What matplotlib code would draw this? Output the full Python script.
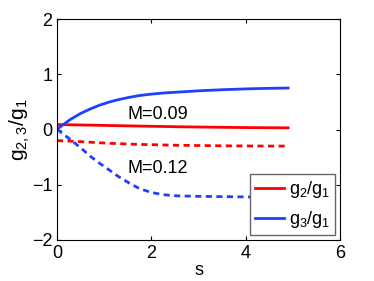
import numpy as np
import matplotlib
matplotlib.use('Agg')
import matplotlib.pyplot as plt

# values
s = [0, 0.1, 0.28, 0.5, 0.7, 0.9, 1.12, 1.3, 1.55, 1.75, 2.0, 2.25, 2.53, 3.0, 3.5, 4.0, 4.5, 4.9]
g2_a = [0.09, 0.088, 0.085, 0.082, 0.079, 0.076, 0.072, 0.069, 0.065, 0.062, 0.058, 0.055, 0.05, 0.045, 0.04, 0.035, 0.032, 0.03]
g3_a = [0.0, 0.07, 0.18, 0.29, 0.37, 0.44, 0.50, 0.54, 0.585, 0.615, 0.64, 0.66, 0.675, 0.70, 0.72, 0.735, 0.745, 0.75]
g2_b = [-0.20, -0.205, -0.21, -0.22, -0.23, -0.24, -0.25, -0.255, -0.265, -0.27, -0.275, -0.28, -0.285, -0.29, -0.295, -0.298, -0.30, -0.30]
g3_b = [0.0, -0.06, -0.18, -0.33, -0.48, -0.61, -0.74, -0.85, -0.98, -1.07, -1.14, -1.18, -1.20, -1.21, -1.215, -1.22, -1.22, -1.22]

red = '#ff0000'
blue = '#1f3fff'

plt.rcParams['font.family'] = ['Liberation Sans', 'DejaVu Sans']
plt.rcParams['mathtext.fontset'] = 'custom'
plt.rcParams['mathtext.rm'] = 'Liberation Sans'
fig = plt.figure(figsize=(3.74, 2.81), dpi=100)
ax = fig.add_axes([57/374, 41/281, 283/374, 221/281])

l1, = ax.plot(s, g2_a, color=red, lw=2)
l2, = ax.plot(s, g3_a, color=blue, lw=2)
ax.plot(s, g2_b, color=red, lw=2, ls=(0, (2.2, 1.6)))
ax.plot(s, g3_b, color=blue, lw=2, ls=(0, (2.2, 1.6)))

ax.text(1.5, 0.27, 'M=0.09', fontsize=13, va='center')
ax.text(1.5, -0.70, 'M=0.12', fontsize=13, va='center')

ax.set_xlim(0, 6)
ax.set_ylim(-2, 2)
ax.set_xticks([0, 2, 4, 6])
ax.set_yticks([-2, -1, 0, 1, 2])
ax.set_yticklabels(['\u22122', '\u22121', '0', '1', '2'])
ax.tick_params(direction='in', top=True, right=True, labelsize=13, length=3)
ax.set_xlabel('s', fontsize=13, labelpad=0)
ax.set_ylabel('$\\mathregular{g_{2,3}/g_1}$', fontsize=15, labelpad=0)

leg = ax.legend([l1, l2], ['$\\mathregular{g_2/g_1}$', '$\\mathregular{g_3/g_1}$'],
                loc='lower right', fontsize=13, fancybox=False, framealpha=1,
                handlelength=1.6, handletextpad=0.25, labelspacing=0.5,
                borderpad=0.3, borderaxespad=0.25)
leg.get_frame().set_edgecolor('0.4')

fig.savefig('out.png', dpi=100)
